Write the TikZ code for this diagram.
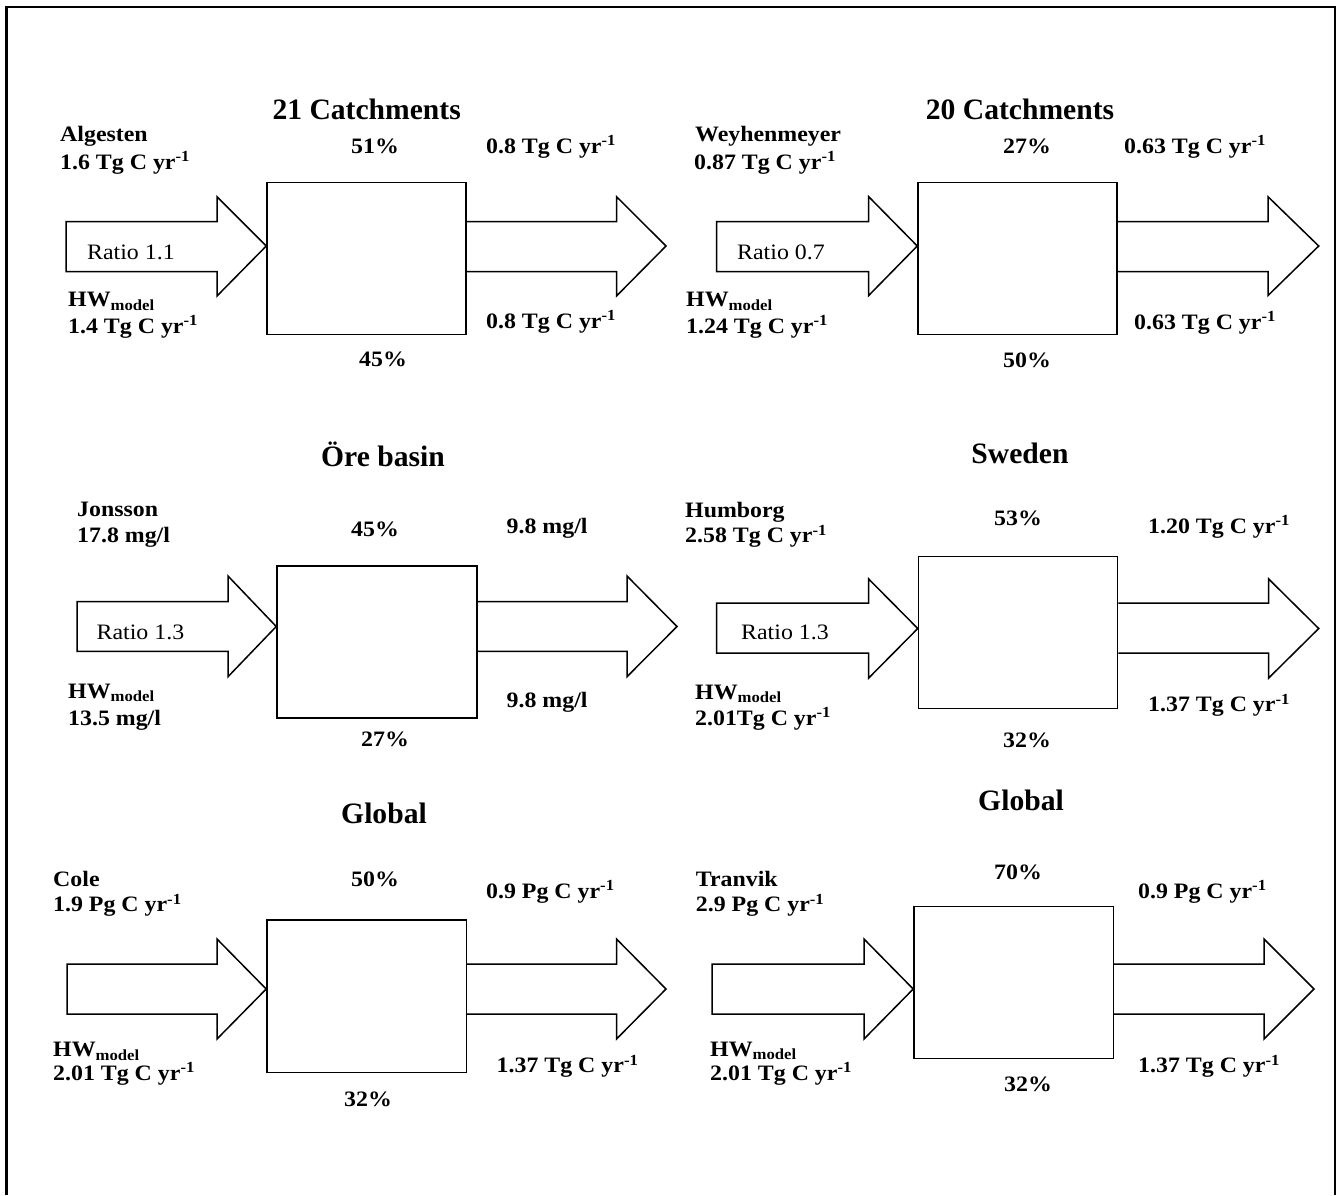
\documentclass[tikz,border=0pt]{standalone}
\usepackage{fontspec}
\setmainfont[FakeStretch=1.085]{Liberation Serif}
\newfontfamily\ttlfont{Liberation Serif}
\begin{document}
\begin{tikzpicture}[x=1pt,y=-1pt,
  lab/.style={inner sep=0pt,font=\fontsize{22}{26}\selectfont\bfseries},
  ttl/.style={inner sep=0pt,font=\ttlfont\fontsize{29.6}{35}\selectfont\bfseries},
  rat/.style={inner sep=0pt,font=\fontsize{22}{26}\selectfont},
  basin/.style={draw,line width=1.5pt,inner sep=0pt,minimum width=199pt,minimum height=152pt},
  flow/.style={draw,line width=1.5pt,line join=miter}]
\useasboundingbox (0,0) rectangle (1338,1195);
% frame
\draw[line width=2.8pt] (6.5,1195) -- (6.5,7) -- (1335,7) -- (1335,1195);

% ---------- Panel 1 ----------
\node[ttl,anchor=base] (t1) at (366.7,119.5) {21 Catchments};
\node[basin] (b1) at (366.5,258.5) {};
\draw[flow] (66,221.7) -- (217,221.7) -- (217,196.7) -- (b1.west |- 0,246) -- (217,296) -- (217,271.7) -- (66,271.7) -- cycle;
\draw[flow] (b1.east |- 0,221.7) -- (616.5,221.7) -- (616.5,196.7) -- (666,246) -- (616.5,296) -- (616.5,271.7) -- (b1.east |- 0,271.7);
\node[lab,anchor=base west] (s1) at (60,141.7) {Algesten};
\node[lab,anchor=base west] (s1v) at (60,169) {1.6 Tg C yr\textsuperscript{-1}};
\node[lab,anchor=base] (p1a) at (375,153) {51\%};
\node[lab,anchor=base west] (o1a) at (486,153) {0.8 Tg C yr\textsuperscript{-1}};
\node[rat,anchor=base west] (r1) at (87,259) {Ratio 1.1};
\node[lab,anchor=base west] (h1) at (68,306.7) {HW\textsubscript{model}};
\node[lab,anchor=base west] (h1v) at (68,333) {1.4 Tg C yr\textsuperscript{-1}};
\node[lab,anchor=base west] (o1b) at (486,328) {0.8 Tg C yr\textsuperscript{-1}};
\node[lab,anchor=base] (p1b) at (383,366.7) {45\%};

% ---------- Panel 2 ----------
\node[ttl,anchor=base] (t2) at (1020,119.5) {20 Catchments};
\node[basin] (b2) at (1017.5,258.5) {};
\draw[flow] (716.5,221.7) -- (868.7,221.7) -- (868.7,196.7) -- (b2.west |- 0,246) -- (868.7,295.5) -- (868.7,271.7) -- (716.5,271.7) -- cycle;
\draw[flow] (b2.east |- 0,221.7) -- (1268,221.7) -- (1268,196.7) -- (1318.7,246) -- (1268,295.5) -- (1268,271.7) -- (b2.east |- 0,271.7);
\node[lab,anchor=base west] (s2) at (695,141.7) {Weyhenmeyer};
\node[lab,anchor=base west] (s2v) at (694,169) {0.87 Tg C yr\textsuperscript{-1}};
\node[lab,anchor=base] (p2a) at (1027,153) {27\%};
\node[lab,anchor=base west] (o2a) at (1124,153) {0.63 Tg C yr\textsuperscript{-1}};
\node[rat,anchor=base west] (r2) at (737,259) {Ratio 0.7};
\node[lab,anchor=base west] (h2) at (686,306.7) {HW\textsubscript{model}};
\node[lab,anchor=base west] (h2v) at (686,333) {1.24 Tg C yr\textsuperscript{-1}};
\node[lab,anchor=base west] (o2b) at (1134,329) {0.63 Tg C yr\textsuperscript{-1}};
\node[lab,anchor=base] (p2b) at (1027,367) {50\%};

% ---------- Panel 3 ----------
\node[ttl,anchor=base] (t3) at (383,466) {Öre basin};
\node[basin,minimum width=200pt] (b3) at (377,642) {};
\draw[flow] (77,601.7) -- (228,601.7) -- (228,576) -- (b3.west |- 0,626.5) -- (228,676.7) -- (228,651.3) -- (77,651.3) -- cycle;
\draw[flow] (b3.east |- 0,601.7) -- (627,601.7) -- (627,576) -- (677,626.5) -- (627,676.7) -- (627,651.3) -- (b3.east |- 0,651.3);
\node[lab,anchor=base west] (s3) at (77,516) {Jonsson};
\node[lab,anchor=base west] (s3v) at (77,542.7) {17.8 mg/l};
\node[lab,anchor=base] (p3a) at (375,536) {45\%};
\node[lab,anchor=base west] (o3a) at (506.5,533) {9.8 mg/l};
\node[rat,anchor=base west] (r3) at (96.5,639) {Ratio 1.3};
\node[lab,anchor=base west] (h3) at (68,698) {HW\textsubscript{model}};
\node[lab,anchor=base west] (h3v) at (68,725) {13.5 mg/l};
\node[lab,anchor=base west] (o3b) at (506.5,707.7) {9.8 mg/l};
\node[lab,anchor=base] (p3b) at (385,746.7) {27\%};

% ---------- Panel 4 ----------
\node[ttl,anchor=base] (t4) at (1020,463) {Sweden};
\node[basin] (b4) at (1018,632.7) {};
\draw[flow] (716.5,603) -- (868.7,603) -- (868.7,579) -- (b4.west |- 0,628.5) -- (868.7,678) -- (868.7,653) -- (716.5,653) -- cycle;
\draw[flow] (b4.east |- 0,603) -- (1268.7,603) -- (1268.7,579) -- (1318.7,628.5) -- (1268.7,678) -- (1268.7,653) -- (b4.east |- 0,653);
\node[lab,anchor=base west] (s4) at (685,517) {Humborg};
\node[lab,anchor=base west] (s4v) at (685,542.7) {2.58 Tg C yr\textsuperscript{-1}};
\node[lab,anchor=base] (p4a) at (1018,525) {53\%};
\node[lab,anchor=base west] (o4a) at (1148,533) {1.20 Tg C yr\textsuperscript{-1}};
\node[rat,anchor=base west] (r4) at (741,639) {Ratio 1.3};
\node[lab,anchor=base west] (h4) at (695,699) {HW\textsubscript{model}};
\node[lab,anchor=base west] (h4v) at (695,725) {2.01Tg C yr\textsuperscript{-1}};
\node[lab,anchor=base west] (o4b) at (1148,711.7) {1.37 Tg C yr\textsuperscript{-1}};
\node[lab,anchor=base] (p4b) at (1027,747) {32\%};

% ---------- Panel 5 ----------
\node[ttl,anchor=base] (t5) at (384,823) {Global};
\node[basin,minimum width=199.5pt,minimum height=152.7pt] (b5) at (366.7,996.3) {};
\draw[flow] (67,964) -- (217,964) -- (217,939) -- (b5.west |- 0,989) -- (217,1039) -- (217,1014) -- (67,1014) -- cycle;
\draw[flow] (b5.east |- 0,964) -- (616.5,964) -- (616.5,939) -- (666,989) -- (616.5,1039) -- (616.5,1014) -- (b5.east |- 0,1014);
\node[lab,anchor=base west] (s5) at (53,886) {Cole};
\node[lab,anchor=base west] (s5v) at (53,911.7) {1.9 Pg C yr\textsuperscript{-1}};
\node[lab,anchor=base] (p5a) at (375,886) {50\%};
\node[lab,anchor=base west] (o5a) at (486,898) {0.9 Pg C yr\textsuperscript{-1}};
\node[lab,anchor=base west] (h5) at (53,1056.7) {HW\textsubscript{model}};
\node[lab,anchor=base west] (h5v) at (53,1080) {2.01 Tg C yr\textsuperscript{-1}};
\node[lab,anchor=base west] (o5b) at (496.5,1072.7) {1.37 Tg C yr\textsuperscript{-1}};
\node[lab,anchor=base] (p5b) at (368,1106) {32\%};

% ---------- Panel 6 ----------
\node[ttl,anchor=base] (t6) at (1021,810) {Global};
\node[basin,minimum width=199.5pt] (b6) at (1013.7,982.7) {};
\draw[flow] (712,964) -- (864,964) -- (864,939) -- (b6.west |- 0,989) -- (864,1039) -- (864,1014) -- (712,1014) -- cycle;
\draw[flow] (b6.east |- 0,964) -- (1264,964) -- (1264,939) -- (1314,989) -- (1264,1039) -- (1264,1014) -- (b6.east |- 0,1014);
\node[lab,anchor=base west] (s6) at (695.7,886) {Tranvik};
\node[lab,anchor=base west] (s6v) at (695.7,911.7) {2.9 Pg C yr\textsuperscript{-1}};
\node[lab,anchor=base] (p6a) at (1018,879) {70\%};
\node[lab,anchor=base west] (o6a) at (1138,898) {0.9 Pg C yr\textsuperscript{-1}};
\node[lab,anchor=base west] (h6) at (710,1056) {HW\textsubscript{model}};
\node[lab,anchor=base west] (h6v) at (710,1080) {2.01 Tg C yr\textsuperscript{-1}};
\node[lab,anchor=base west] (o6b) at (1138,1072.7) {1.37 Tg C yr\textsuperscript{-1}};
\node[lab,anchor=base] (p6b) at (1028,1091.7) {32\%};
\end{tikzpicture}
\end{document}
